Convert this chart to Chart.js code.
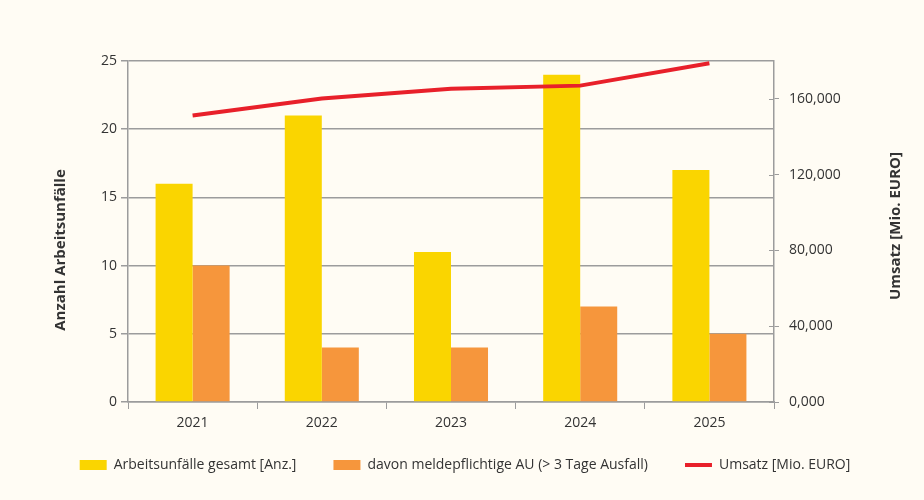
<!DOCTYPE html>
<html>
<head>
<meta charset="utf-8">
<script src="https://cdn.jsdelivr.net/npm/chart.js@4"></script>
<style>
  html, body { margin: 0; padding: 0; background: #fffcf4; }
  #wrap { width: 924px; height: 500px; }
</style>
</head>
<body>
<div id="wrap"><canvas id="c" width="924" height="500"></canvas></div>
<script>
const years = ['2021', '2022', '2023', '2024', '2025'];
const unfaelleGesamt = [16, 21, 11, 24, 17];
const meldepflichtig = [10, 4, 4, 7, 5];
const umsatz = [151.2, 160.2, 165.3, 167.0, 178.8];
const leftTicks = [0, 5, 10, 15, 20, 25];
const rightTicks = [0, 40, 80, 120, 160];

const GRID = '#9c9c9c';
const TEXT = '#333333';
const FONT = "'Open Sans', 'Noto Sans', sans-serif";
const LEGEND_PAD = 37;
const LEGEND_HEIGHT = 52;
const LEGEND_SHIFT_Y = -27;
const LEGEND_SHIFT_X = 3;

function drawVerticalTitle(ctx, text, x, y) {
  ctx.save();
  ctx.fillStyle = TEXT;
  ctx.font = "bold 15px " + FONT;
  ctx.textAlign = 'center';
  ctx.textBaseline = 'middle';
  ctx.translate(x, y);
  ctx.rotate(-Math.PI / 2);
  ctx.fillText(text, 0, 0);
  ctx.restore();
}

const extras = {
  id: 'extras',
  beforeLayout(chart) {
    const lg = chart.legend;
    if (lg && !lg._patched) {
      const fit = lg.fit.bind(lg);
      lg.fit = function () { fit(); this.height = LEGEND_HEIGHT; };
      const draw = lg._draw.bind(lg);
      lg._draw = function () {
        const t = this.top, l = this.left, r = this.right;
        this.top = t + LEGEND_SHIFT_Y;
        this.left = l + LEGEND_SHIFT_X;
        this.right = r + LEGEND_SHIFT_X;
        draw();
        this.top = t; this.left = l; this.right = r;
      };
      lg._patched = true;
    }
  },
  afterDraw(chart) {
    const ctx = chart.ctx;
    const y1 = chart.scales.y1;
    ctx.save();
    ctx.strokeStyle = GRID;
    ctx.lineWidth = 1;
    rightTicks.forEach(v => {
      const y = Math.round(y1.getPixelForValue(v)) + 0.5;
      ctx.beginPath();
      ctx.moveTo(y1.left - 5, y);
      ctx.lineTo(y1.left, y);
      ctx.stroke();
    });
    ctx.restore();
    drawVerticalTitle(ctx, 'Anzahl Arbeitsunfälle', 61, 250);
    drawVerticalTitle(ctx, 'Umsatz [Mio. EURO]', 896, 226);
  }
};

const bgPlugin = {
  id: 'bg',
  beforeDraw(chart) {
    const ctx = chart.ctx;
    ctx.save();
    ctx.fillStyle = '#fffcf4';
    ctx.fillRect(0, 0, chart.width, chart.height);
    ctx.restore();
  }
};

new Chart(document.getElementById('c'), {
  data: {
    labels: years,
    datasets: [
      {
        type: 'line',
        label: 'Umsatz [Mio. EURO]',
        data: umsatz,
        yAxisID: 'y1',
        borderColor: '#e8202a',
        backgroundColor: '#e8202a',
        borderWidth: 4,
        pointRadius: 0,
        pointHoverRadius: 0,
        tension: 0,
        order: 0
      },
      {
        type: 'bar',
        label: 'Arbeitsunfälle gesamt [Anz.]',
        data: unfaelleGesamt,
        yAxisID: 'y',
        backgroundColor: '#fad500',
        order: 1
      },
      {
        type: 'bar',
        label: 'davon meldepflichtige AU (> 3 Tage Ausfall)',
        data: meldepflichtig,
        yAxisID: 'y',
        backgroundColor: '#f6963c',
        order: 1
      }
    ]
  },
  options: {
    responsive: false,
    animation: false,
    events: [],
    layout: { padding: { left: 0, right: 0, top: 61, bottom: 0 } },
    datasets: {
      bar: { categoryPercentage: 0.573, barPercentage: 1.0 }
    },
    plugins: {
      tooltip: { enabled: false },
      legend: {
        position: 'bottom',
        labels: {
          font: { family: FONT, size: 14 },
          color: TEXT,
          usePointStyle: true,
          pointStyleWidth: 27,
          boxHeight: 10,
          padding: LEGEND_PAD,
          generateLabels(chart) {
            const items = Chart.defaults.plugins.legend.labels.generateLabels(chart);
            items.forEach(it => {
              const ds = chart.data.datasets[it.datasetIndex];
              if (ds.type === 'line') {
                it.pointStyle = 'line';
                it.lineWidth = 4;
                it.strokeStyle = '#e8202a';
              } else {
                it.pointStyle = 'rect';
                it.lineWidth = 0;
                it.strokeStyle = ds.backgroundColor;
                it.fillStyle = ds.backgroundColor;
              }
            });
            return [items[1], items[2], items[0]];
          }
        }
      }
    },
    scales: {
      x: {
        offset: true,
        grid: { offset: true, drawOnChartArea: false, color: GRID, tickLength: 7, lineWidth: 1 },
        border: { color: GRID, width: 1.5 },
        ticks: { color: TEXT, font: { family: FONT, size: 14 }, padding: 6 },
        afterFit(s) { s.height = 46; }
      },
      y: {
        position: 'left',
        min: 0,
        max: 25,
        afterBuildTicks(s) { s.ticks = leftTicks.map(v => ({ value: v })); },
        grid: { color: GRID, lineWidth: 1.5, tickLength: 7 },
        border: { color: GRID, width: 1.5 },
        ticks: { color: TEXT, font: { family: FONT, size: 14 }, padding: 4 },
        afterFit(s) { s.width = 128; }
      },
      y1: {
        position: 'right',
        min: 0,
        max: 180,
        afterBuildTicks(s) { s.ticks = rightTicks.map(v => ({ value: v })); },
        grid: { drawOnChartArea: false, color: GRID, lineWidth: 1, tickLength: 5 },
        border: { color: GRID, width: 1.5 },
        ticks: {
          color: TEXT,
          font: { family: FONT, size: 14 },
          padding: 10,
          callback: v => v.toFixed(3).replace('.', ',')
        },
        afterFit(s) { s.width = 150; }
      }
    }
  },
  plugins: [bgPlugin, extras]
});
</script>
</body>
</html>
